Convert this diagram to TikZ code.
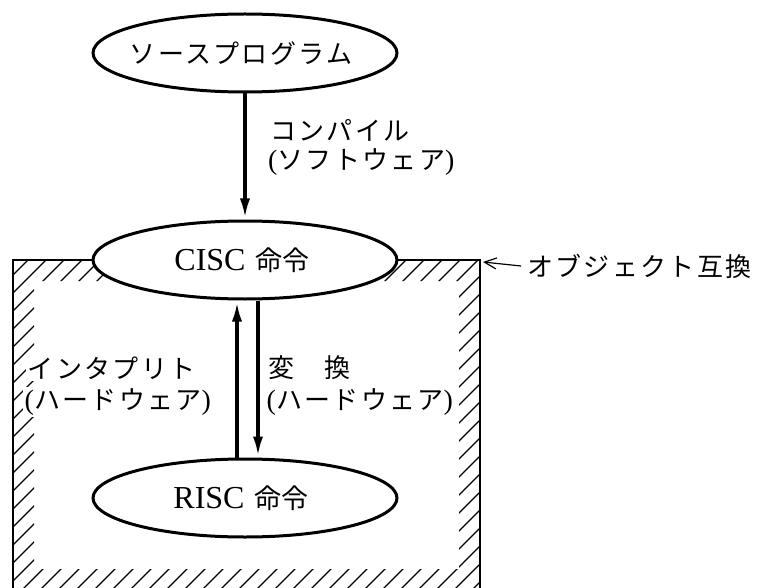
\documentclass[tikz,border=0pt]{standalone}
\usepackage{fontspec}
\setmainfont{Liberation Serif}
\newfontfamily\jpfont{Noto Sans CJK JP}
\usetikzlibrary{arrows.meta,shapes.geometric}
\newcommand{\jpk}[1]{{\jpfont\addfontfeature{LetterSpace=9}#1}}
\newcommand{\lparen}{{\fontsize{28}{30}\selectfont(}}
\newcommand{\rparen}{{\fontsize{28}{30}\selectfont)}}
\newcommand{\latbig}[1]{{\fontsize{32}{36}\selectfont #1}}
\newcommand{\kanji}[1]{{\fontsize{27}{30}\selectfont\jpfont #1}}
\begin{document}
\begin{tikzpicture}[x=1pt,y=-1pt,
  ell/.style={ellipse, draw, line width=3pt, fill=white, minimum width=304pt, minimum height=78pt, inner sep=0pt, font=\fontsize{26}{30}\selectfont},
  lbl/.style={anchor=west, inner sep=0pt, font=\fontsize{26}{30}\selectfont},
  lblw/.style={lbl, fill=white, inner sep=1.5pt},
  wall/.style={line width=2.6pt},
  hatchline/.style={line width=1.1pt},
  bigarrow/.style={line width=3.8pt, -{Latex[length=21pt,width=10pt]}},
  thinarrow/.style={line width=1.2pt, -{Straight Barb[length=12pt,width=11pt]}}
]
\clip (0,0) rectangle (760,588);
\fill[white] (0,0) rectangle (760,588);
% hatching inside the walls
\begin{scope}
  \clip (13,260) rectangle (34,600) (459,260) rectangle (480,600)
        (13,260) rectangle (480,281) (13,569) rectangle (480,600);
  \foreach \s in {0,18,...,1260} {
    \draw[hatchline] (\s-620,620) -- (\s,0);
  }
\end{scope}
% walls
\draw[wall] (13,600) -- (13,260) -- (480,260) -- (480,600);
\coordinate (corner) at (481,262);
% ellipses
\node[ell] (src)  at (245,53)  {\hspace{-8pt}\jpk{ソースプログラム}};
\node[ell] (cisc) at (245,260) {\hspace{-6pt}\latbig{CISC}\hspace{10pt}\kanji{命令}};
\node[ell] (risc) at (245,498) {\hspace{-8pt}\latbig{RISC}\hspace{10pt}\kanji{命令}};
% connectors
\draw[bigarrow] (src.south) -- (cisc.north);
\draw[bigarrow] ([xshift=-8pt]risc.north) -- ([xshift=-8pt]cisc.south);
\draw[bigarrow] ([xshift=13pt]cisc.south) -- ([xshift=13pt]risc.north);
% labels
\node[lbl] (comp1) at (270,130) {\jpk{コンパイル}};
\node[lbl] (comp2) at (268,162) {\lparen\jpk{ソフトウェア}\rparen};
\node[lblw] (int1) at (26,368) {\jpk{インタプリト}};
\node[lblw] (int2) at (23,402) {\lparen\jpk{ハードウェア}\rparen};
\node[lbl] (conv1) at (268,368) {\jpk{変　換}};
\node[lblw] (conv2) at (265,402) {\lparen\jpk{ハードウェア}\rparen};
\node[lbl] (obj) at (527,266) {\jpk{オブジェクト互換}};
\draw[thinarrow] ([xshift=-6pt]obj.west) -- (corner -| 483,0);
\end{tikzpicture}
\end{document}
